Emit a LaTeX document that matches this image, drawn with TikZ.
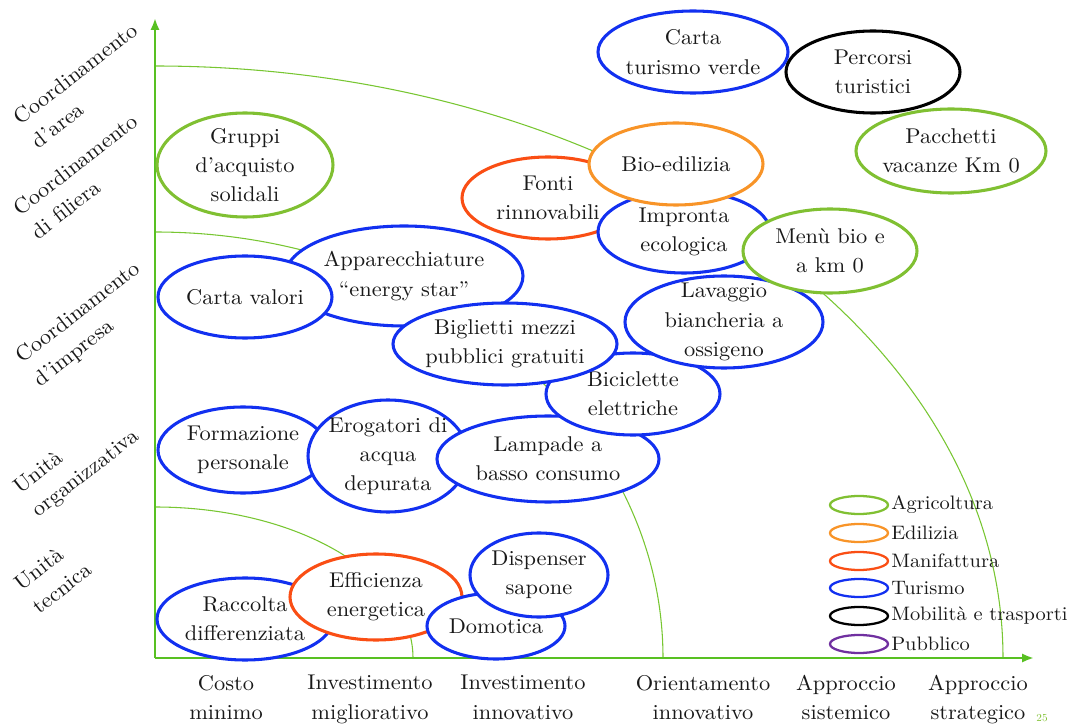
\documentclass[tikz,border=0pt]{standalone}
\usepackage{fontspec}
\setmainfont{lmroman10-regular.otf}[FakeStretch=1.05,Ligatures=TeX]
\usetikzlibrary{arrows.meta}
\definecolor{axg}{RGB}{88,192,34}
\definecolor{arcg}{RGB}{120,198,50}
\definecolor{agri}{RGB}{128,192,50}
\definecolor{edil}{RGB}{248,148,40}
\definecolor{manif}{RGB}{250,78,20}
\definecolor{tur}{RGB}{18,48,240}
\definecolor{mob}{RGB}{0,0,0}
\definecolor{pubb}{RGB}{112,48,160}
\definecolor{txt}{RGB}{25,25,25}
\newcommand\bub[7]{%
  \draw[bubble,draw=#6] (#2,#3) ellipse [x radius=#4, y radius=#5];
  \node[btext] (#1) at (#2,#3) {#7};}
\newcommand\legitem[4]{%
  \draw[legell,draw=#3] (859,#2) ellipse [x radius=29, y radius=9];
  \node[legtext] (#1) at (891,#2) {#4};}
\begin{document}
\begin{tikzpicture}[x=0.75pt,y=-0.75pt,
  font=\fontsize{16}{22}\selectfont,
  every node/.style={text=txt},
  bubble/.style={line width=2.3pt,fill=white},
  btext/.style={align=center,inner sep=0pt},
  legell/.style={line width=1.7pt,fill=white},
  legtext/.style={anchor=west,inner sep=0pt,font=\fontsize{14.6}{18}\selectfont},
  axis/.style={draw=axg,line width=2.2pt,-{Latex[length=9pt,width=7pt]}},
  zone/.style={draw=arcg,line width=0.8pt},
  ylab/.style={rotate=38,anchor=north west,align=left,inner sep=0pt},
  xlab/.style={align=center,inner sep=0pt,anchor=north}]
\useasboundingbox (0,0) rectangle (1079,727);
% axes
\coordinate (O) at (155,658);
\coordinate (Ytop) at (155,18);
\coordinate (Xend) at (1034,658);
\coordinate (A1) at (155,507);
\coordinate (A2) at (155,232);
\coordinate (A3) at (155,66);
\draw[zone] (A1) arc[start angle=-90,end angle=0,x radius=258,y radius=151];
\draw[zone] (A2) arc[start angle=-90,end angle=0,x radius=508,y radius=426];
\draw[zone] (A3) arc[start angle=-90,end angle=0,x radius=848,y radius=592];
\draw[axis] (O) -- (Ytop);
\draw[axis] (O) -- (Xend);
% y labels
\node[ylab] (l1) at (11,114) {Coordinamento\\d’area};
\node[ylab] (l2) at (11,205) {Coordinamento\\di filiera};
\node[ylab] (l3) at (13,352) {Coordinamento\\d’impresa};
\node[ylab] (l4) at (11,483) {Unità\\organizzativa};
\node[ylab] (l5) at (12,580) {Unità\\tecnica};
% x labels
\node[xlab] (x1) at (226,675) {Costo\\minimo};
\node[xlab] (x2) at (370,675) {Investimento\\migliorativo};
\node[xlab] (x3) at (523,675) {Investimento\\innovativo};
\node[xlab] (x4) at (703,675) {Orientamento\\innovativo};
\node[xlab] (x5) at (846,675) {Approccio\\sistemico};
\node[xlab] (x6) at (978,675) {Approccio\\strategico};
\node[text=agri,font=\fontsize{8}{9}\selectfont,inner sep=0pt] (pg) at (1042,718) {25};
% bubbles
\bub{ctv}{693}{52}{95}{41}{tur}{Carta\\turismo verde}
\bub{perc}{873}{72}{87}{41}{mob}{Percorsi\\turistici}
\bub{pacc}{951}{151}{95}{42}{agri}{Pacchetti\\vacanze Km 0}
\bub{grup}{245}{165}{88}{52}{agri}{Gruppi\\d’acquisto\\solidali}
\bub{fonti}{548}{198}{86}{41}{manif}{Fonti\\rinnovabili}
\bub{impr}{684}{232}{86}{41}{tur}{Impronta\\ecologica}
\bub{bio}{676}{164}{87}{41}{edil}{Bio-edilizia}
\bub{appa}{404}{276}{119}{50}{tur}{Apparecchiature\\“energy star”}
\bub{cval}{245}{297}{87}{41}{tur}{Carta valori}
\bub{form}{243}{450}{85}{43}{tur}{Formazione\\personale}
\bub{erog}{388}{456}{80}{56}{tur}{Erogatori di\\acqua\\depurata}
\bub{lamp}{548}{459}{111}{43}{tur}{Lampade a\\basso consumo}
\bub{bici}{633}{394}{87}{41}{tur}{Biciclette\\elettriche}
\bub{bigl}{505}{344}{112}{41}{tur}{Biglietti mezzi\\pubblici gratuiti}
\bub{lava}{724}{322}{99}{46}{tur}{Lavaggio\\biancheria a\\ossigeno}
\bub{menu}{830}{251}{87}{42}{agri}{Menù bio e\\a km 0}
\bub{racc}{245}{619}{88}{41}{tur}{Raccolta\\differenziata}
\bub{effi}{376}{597}{86}{43}{manif}{Efficienza\\energetica}
\bub{domo}{496}{626}{69}{33}{tur}{Domotica}
\bub{disp}{539}{575}{69}{42}{tur}{Dispenser\\sapone}
% legend
\legitem{g1}{505}{agri}{Agricoltura}
\legitem{g2}{533}{edil}{Edilizia}
\legitem{g3}{561}{manif}{Manifattura}
\legitem{g4}{588}{tur}{Turismo}
\legitem{g5}{616}{mob}{Mobilità e trasporti}
\legitem{g6}{644}{pubb}{Pubblico}
\end{tikzpicture}
\end{document}
